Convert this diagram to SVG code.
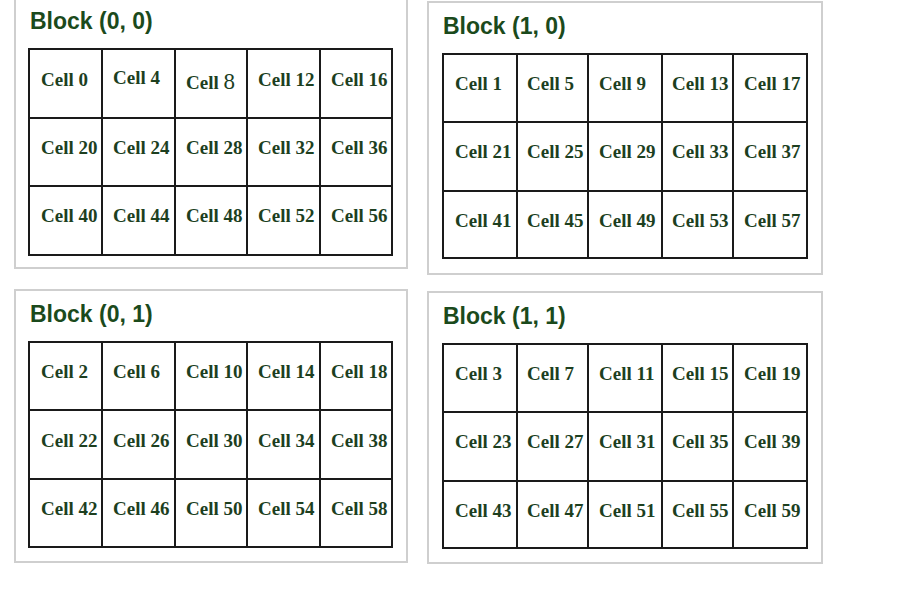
<svg xmlns="http://www.w3.org/2000/svg" width="900" height="590" viewBox="0 0 900 590">
<style>
.bg{fill:#ffffff}
.box{fill:#ffffff;stroke:#cfcfcf;stroke-width:2}
.grid{fill:none;stroke:#1a1a1a;stroke-width:2}
.title{font-family:"Liberation Sans",Arial,sans-serif;font-weight:bold;font-size:23px;fill:#1b4a1c}
.cell{font-family:"Liberation Serif","Times New Roman",serif;font-weight:bold;font-size:19px;fill:#1d3f1f}
.big{font-weight:normal;font-size:23px}
</style>
<rect class="bg" x="0" y="0" width="900" height="590"/>

<g id="block-0-0">
<rect class="box" x="15" y="-10" width="392" height="278"/>
<text class="title" x="30" y="29">Block (0, 0)</text>
<path class="grid" d="M29 49H392V255H29Z M102 49V255 M175 49V255 M247 49V255 M320 49V255 M29 118H392 M29 186H392"/>
<text class="cell" x="41" y="86">Cell 0</text>
<text class="cell" x="113" y="84">Cell 4</text>
<text class="cell" x="186" y="89">Cell <tspan class="big">8</tspan></text>
<text class="cell" x="258" y="86">Cell 12</text>
<text class="cell" x="331" y="86">Cell 16</text>
<text class="cell" x="41" y="154">Cell 20</text>
<text class="cell" x="113" y="154">Cell 24</text>
<text class="cell" x="186" y="154">Cell 28</text>
<text class="cell" x="258" y="154">Cell 32</text>
<text class="cell" x="331" y="154">Cell 36</text>
<text class="cell" x="41" y="222">Cell 40</text>
<text class="cell" x="113" y="222">Cell 44</text>
<text class="cell" x="186" y="222">Cell 48</text>
<text class="cell" x="258" y="222">Cell 52</text>
<text class="cell" x="331" y="222">Cell 56</text>
</g>

<g id="block-1-0">
<rect class="box" x="428" y="2" width="394" height="272"/>
<text class="title" x="443" y="34">Block (1, 0)</text>
<path class="grid" d="M443 54H807V258H443Z M517 54V258 M588 54V258 M662 54V258 M733 54V258 M443 122H807 M443 191H807"/>
<text class="cell" x="455" y="90">Cell 1</text>
<text class="cell" x="527" y="90">Cell 5</text>
<text class="cell" x="599" y="90">Cell 9</text>
<text class="cell" x="672" y="90">Cell 13</text>
<text class="cell" x="744" y="90">Cell 17</text>
<text class="cell" x="455" y="158">Cell 21</text>
<text class="cell" x="527" y="158">Cell 25</text>
<text class="cell" x="599" y="158">Cell 29</text>
<text class="cell" x="672" y="158">Cell 33</text>
<text class="cell" x="744" y="158">Cell 37</text>
<text class="cell" x="455" y="227">Cell 41</text>
<text class="cell" x="527" y="227">Cell 45</text>
<text class="cell" x="599" y="227">Cell 49</text>
<text class="cell" x="672" y="227">Cell 53</text>
<text class="cell" x="744" y="227">Cell 57</text>
</g>

<g id="block-0-1">
<rect class="box" x="15" y="290" width="392" height="272"/>
<text class="title" x="30" y="322">Block (0, 1)</text>
<path class="grid" d="M29 342H392V547H29Z M102 342V547 M175 342V547 M247 342V547 M320 342V547 M29 410H392 M29 479H392"/>
<text class="cell" x="41" y="378">Cell 2</text>
<text class="cell" x="113" y="378">Cell 6</text>
<text class="cell" x="186" y="378">Cell 10</text>
<text class="cell" x="258" y="378">Cell 14</text>
<text class="cell" x="331" y="378">Cell 18</text>
<text class="cell" x="41" y="447">Cell 22</text>
<text class="cell" x="113" y="447">Cell 26</text>
<text class="cell" x="186" y="447">Cell 30</text>
<text class="cell" x="258" y="447">Cell 34</text>
<text class="cell" x="331" y="447">Cell 38</text>
<text class="cell" x="41" y="515">Cell 42</text>
<text class="cell" x="113" y="515">Cell 46</text>
<text class="cell" x="186" y="515">Cell 50</text>
<text class="cell" x="258" y="515">Cell 54</text>
<text class="cell" x="331" y="515">Cell 58</text>
</g>

<g id="block-1-1">
<rect class="box" x="428" y="292" width="394" height="271"/>
<text class="title" x="443" y="324">Block (1, 1)</text>
<path class="grid" d="M443 344H807V548H443Z M517 344V548 M588 344V548 M662 344V548 M733 344V548 M443 412H807 M443 481H807"/>
<text class="cell" x="455" y="380">Cell 3</text>
<text class="cell" x="527" y="380">Cell 7</text>
<text class="cell" x="599" y="380">Cell 11</text>
<text class="cell" x="672" y="380">Cell 15</text>
<text class="cell" x="744" y="380">Cell 19</text>
<text class="cell" x="455" y="448">Cell 23</text>
<text class="cell" x="527" y="448">Cell 27</text>
<text class="cell" x="599" y="448">Cell 31</text>
<text class="cell" x="672" y="448">Cell 35</text>
<text class="cell" x="744" y="448">Cell 39</text>
<text class="cell" x="455" y="517">Cell 43</text>
<text class="cell" x="527" y="517">Cell 47</text>
<text class="cell" x="599" y="517">Cell 51</text>
<text class="cell" x="672" y="517">Cell 55</text>
<text class="cell" x="744" y="517">Cell 59</text>
</g>

<g id="connectors"></g>
</svg>
